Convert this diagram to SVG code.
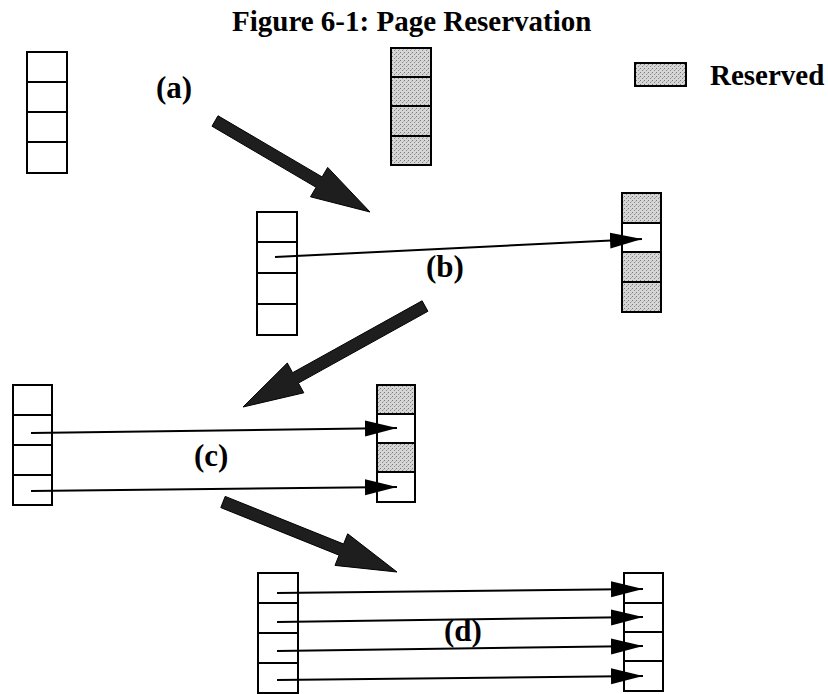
<svg xmlns="http://www.w3.org/2000/svg" width="828" height="694" viewBox="0 0 828 694">
  <style>
    .cell { fill: #ffffff; stroke: #000000; stroke-width: 2; }
    .res { fill: url(#stipple); stroke: #000000; stroke-width: 2; }
    .txt { font-family: "Liberation Serif", "Times New Roman", serif; font-weight: bold; font-size: 29px; fill: #000000; }
    .lbl { font-size: 31px; }
    .ptr { stroke: #000000; stroke-width: 2; fill: none; marker-end: url(#head); }
    .big { fill: #1e1e1e; stroke: #000000; stroke-width: 1; stroke-linejoin: round; }
  </style>
  <defs>
    <!-- dotted grey fill for reserved pages -->
    <pattern id="stipple" patternUnits="userSpaceOnUse" width="4" height="4">
      <rect width="4" height="4" fill="#d6d6d6"/>
      <rect x="0" y="0" width="1" height="1" fill="#7a7a7a"/>
      <rect x="2" y="2" width="1" height="1" fill="#8a8a8a"/>
      <rect x="3" y="1" width="1" height="1" fill="#b0b0b0"/>
    </pattern>
    <marker id="head" markerUnits="userSpaceOnUse" markerWidth="32" markerHeight="18" refX="32" refY="9" orient="auto">
      <path d="M0,1 L32,9 L0,17 Z" fill="#000000"/>
    </marker>
  </defs>

  <rect width="828" height="694" fill="#ffffff"/>

  <text id="title" class="txt" x="232" y="31">Figure 6-1: Page Reservation</text>

  <g id="legend">
    <rect class="res" x="635" y="63" width="51" height="23"/>
    <text class="txt" x="710" y="85">Reserved</text>
  </g>

  <!-- stage (a): free pages and fully reserved pages -->
  <g id="stack-a-free">
    <rect class="cell" x="27" y="52" width="40" height="30"/>
    <rect class="cell" x="27" y="82" width="40" height="30"/>
    <rect class="cell" x="27" y="112" width="40" height="30"/>
    <rect class="cell" x="27" y="142" width="40" height="31"/>
  </g>
  <g id="stack-a-reserved">
    <rect class="res" x="391" y="48" width="40" height="29"/>
    <rect class="res" x="391" y="77" width="40" height="29"/>
    <rect class="res" x="391" y="106" width="40" height="30"/>
    <rect class="res" x="391" y="136" width="40" height="29"/>
  </g>
  <text id="label-a" class="txt lbl" x="156" y="98">(a)</text>

  <!-- stage (b) -->
  <g id="stack-b-left">
    <rect class="cell" x="257" y="212" width="40" height="30"/>
    <rect class="cell" x="257" y="242" width="40" height="31"/>
    <rect class="cell" x="257" y="273" width="40" height="31"/>
    <rect class="cell" x="257" y="304" width="40" height="31"/>
  </g>
  <g id="stack-b-right">
    <rect class="res" x="622" y="193" width="39" height="30"/>
    <rect class="cell" x="622" y="223" width="39" height="29"/>
    <rect class="res" x="622" y="252" width="39" height="30"/>
    <rect class="res" x="622" y="282" width="39" height="30"/>
  </g>
  <text id="label-b" class="txt lbl" x="426" y="277">(b)</text>

  <!-- stage (c) -->
  <g id="stack-c-left">
    <rect class="cell" x="13" y="385" width="39" height="30"/>
    <rect class="cell" x="13" y="415" width="39" height="30"/>
    <rect class="cell" x="13" y="445" width="39" height="30"/>
    <rect class="cell" x="13" y="475" width="39" height="30"/>
  </g>
  <g id="stack-c-right">
    <rect class="res" x="377" y="385" width="38" height="29"/>
    <rect class="cell" x="377" y="414" width="38" height="29"/>
    <rect class="res" x="377" y="443" width="38" height="29"/>
    <rect class="cell" x="377" y="472" width="38" height="30"/>
  </g>
  <text id="label-c" class="txt lbl" x="194" y="466">(c)</text>

  <!-- stage (d) -->
  <g id="stack-d-left">
    <rect class="cell" x="258" y="573" width="40" height="30"/>
    <rect class="cell" x="258" y="603" width="40" height="30"/>
    <rect class="cell" x="258" y="633" width="40" height="30"/>
    <rect class="cell" x="258" y="663" width="40" height="30"/>
  </g>
  <g id="stack-d-right">
    <rect class="cell" x="624" y="573" width="39" height="30"/>
    <rect class="cell" x="624" y="603" width="39" height="29"/>
    <rect class="cell" x="624" y="632" width="39" height="29"/>
    <rect class="cell" x="624" y="661" width="39" height="30"/>
  </g>
  <text id="label-d" class="txt lbl" x="444" y="641">(d)</text>

  <g id="connectors">
    <!-- transitions between stages -->
    <polygon class="big" points="218.0,115.8 322.1,176.9 327.7,167.4 370,212 310.5,196.8 316.1,187.3 212.0,126.2"/>
    <polygon class="big" points="422.1,300.8 292.6,372.7 287.3,363.0 243,407 303.8,392.8 298.4,383.1 427.9,311.3"/>
    <polygon class="big" points="225.2,496.4 343.6,544.0 347.7,533.8 397,572 335.0,565.4 339.1,555.2 220.8,507.6"/>

    <!-- page mappings -->
    <line class="ptr" x1="275" y1="257" x2="642" y2="239"/>
    <line class="ptr" x1="31" y1="433" x2="397" y2="428"/>
    <line class="ptr" x1="31" y1="491" x2="397" y2="487"/>
    <line class="ptr" x1="277" y1="593" x2="643" y2="589"/>
    <line class="ptr" x1="277" y1="622" x2="643" y2="617"/>
    <line class="ptr" x1="277" y1="651" x2="643" y2="646"/>
    <line class="ptr" x1="277" y1="680" x2="643" y2="676"/>
  </g>
</svg>
